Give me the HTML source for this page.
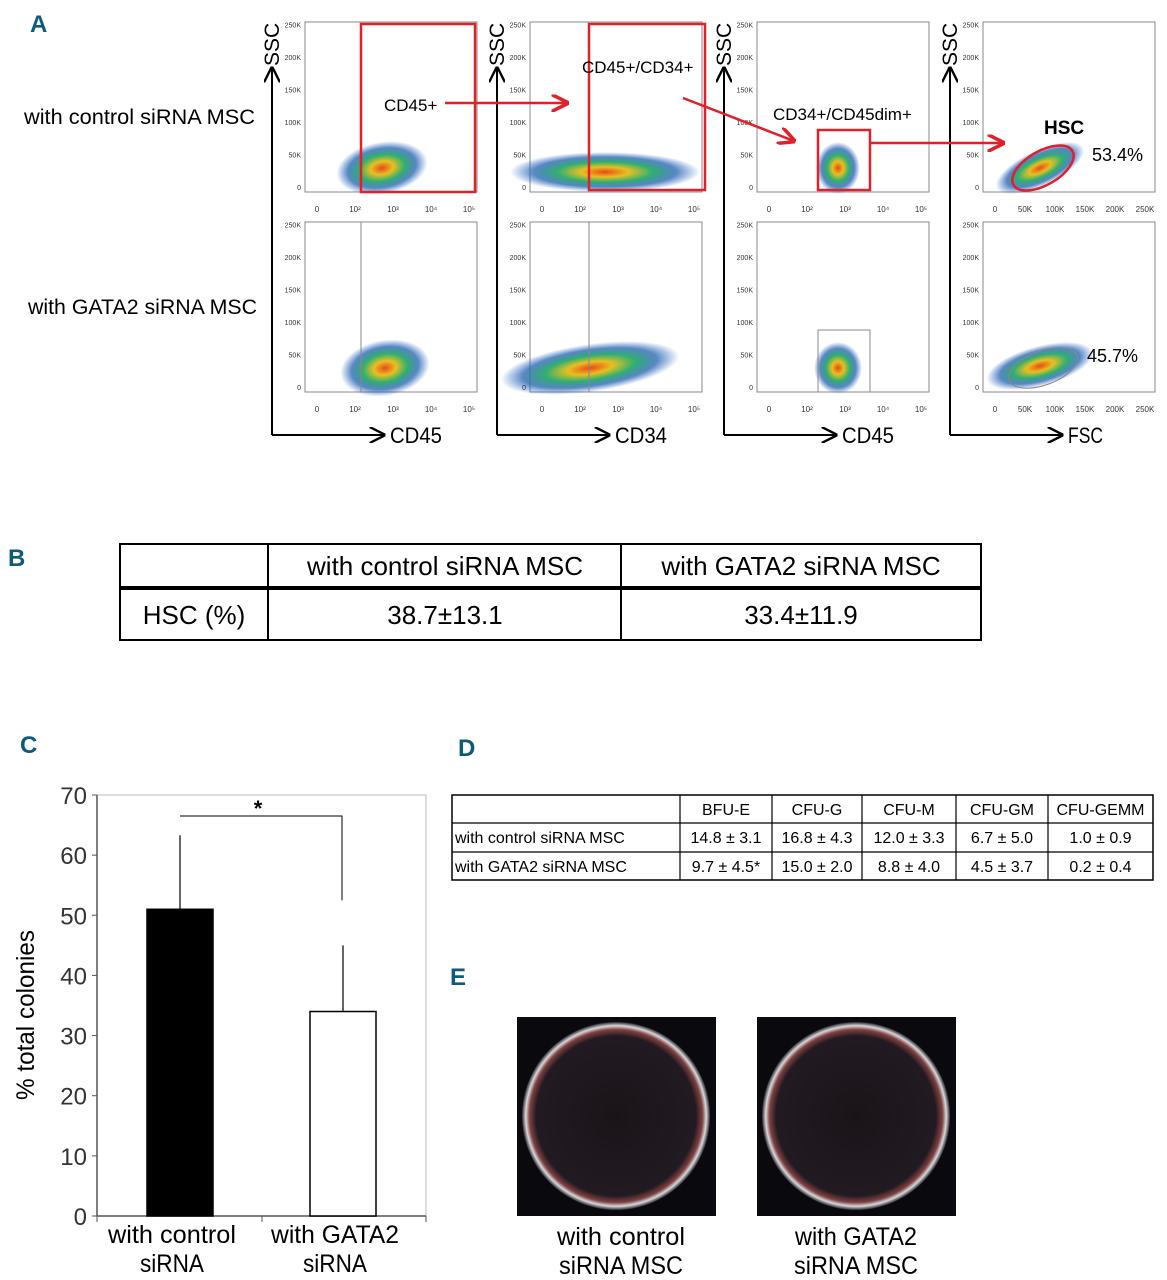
<!DOCTYPE html>
<html><head><meta charset="utf-8">
<style>
html,body{margin:0;padding:0;background:#fff;}
svg{display:block;font-family:"Liberation Sans",sans-serif;}
.pl{fill:#0e5a7a;font-weight:bold;font-size:24px;font-family:"Liberation Sans Narrow","Liberation Sans",sans-serif;}
</style></head>
<body>
<svg id="fig" width="1167" height="1280" viewBox="0 0 1167 1280">
<defs>
 <radialGradient id="blob">
  <stop offset="0" stop-color="#e84a1a"/>
  <stop offset="0.25" stop-color="#e8c020"/>
  <stop offset="0.5" stop-color="#30b070"/>
  <stop offset="0.75" stop-color="#2060b0" stop-opacity="0.75"/>
  <stop offset="1" stop-color="#2060c0" stop-opacity="0"/>
 </radialGradient>
 <radialGradient id="dish">
  <stop offset="0" stop-color="#1a1418"/>
  <stop offset="0.85" stop-color="#221a22"/>
  <stop offset="0.92" stop-color="#804040"/>
  <stop offset="0.96" stop-color="#d8d8dc"/>
  <stop offset="1" stop-color="#2a2a30"/>
 </radialGradient>
 <marker id="ar" viewBox="0 0 10 10" refX="9" refY="5" markerWidth="8" markerHeight="8" orient="auto"><path d="M0,0 L10,5 L0,10" fill="none" stroke="#000" stroke-width="1.5"/></marker>
 <marker id="arr" viewBox="0 0 10 10" refX="9" refY="5" markerWidth="7" markerHeight="7" orient="auto"><path d="M0,0 L10,5 L0,10" fill="none" stroke="#e0202a" stroke-width="2"/></marker>
</defs>

<text class="pl" x="30" y="32">A</text>
<text class="pl" x="8" y="566">B</text>
<text class="pl" x="20" y="753">C</text>
<text class="pl" x="458" y="756">D</text>
<text class="pl" x="450" y="985">E</text>

<text x="24" y="124" font-size="21" textLength="231" lengthAdjust="spacingAndGlyphs">with control siRNA MSC</text>
<text x="28" y="314" font-size="21" textLength="229" lengthAdjust="spacingAndGlyphs">with GATA2 siRNA MSC</text>

<g id="flow"></g>

<g font-size="26">
 <rect x="120" y="544" width="861" height="96" fill="none" stroke="#000" stroke-width="2"/>
 <line x1="120" y1="588" x2="981" y2="588" stroke="#000" stroke-width="4"/>
 <line x1="268" y1="544" x2="268" y2="640" stroke="#000" stroke-width="2"/>
 <line x1="621" y1="544" x2="621" y2="640" stroke="#000" stroke-width="2"/>
 <text x="445" y="575" text-anchor="middle">with control siRNA MSC</text>
 <text x="801" y="575" text-anchor="middle">with GATA2 siRNA MSC</text>
 <text x="194" y="624" text-anchor="middle">HSC (%)</text>
 <text x="445" y="624" text-anchor="middle">38.7±13.1</text>
 <text x="801" y="624" text-anchor="middle">33.4±11.9</text>
</g>

<g id="chart"></g>

<g id="tableD" font-size="15"></g>

<g>
 <rect x="517" y="1017" width="199" height="199" fill="#0a0a0e"/>
 <circle cx="616" cy="1116" r="94" fill="url(#dish)"/>
 <rect x="757" y="1017" width="199" height="199" fill="#0a0a0e"/>
 <circle cx="856" cy="1116" r="94" fill="url(#dish)"/>
 <text x="621" y="1245" font-size="25" text-anchor="middle" textLength="128" lengthAdjust="spacingAndGlyphs">with control</text>
 <text x="621" y="1274" font-size="25" text-anchor="middle" textLength="124" lengthAdjust="spacingAndGlyphs">siRNA MSC</text>
 <text x="856" y="1245" font-size="25" text-anchor="middle" textLength="122" lengthAdjust="spacingAndGlyphs">with GATA2</text>
 <text x="856" y="1274" font-size="25" text-anchor="middle" textLength="124" lengthAdjust="spacingAndGlyphs">siRNA MSC</text>
</g>
</svg>
<script>
const NS="http://www.w3.org/2000/svg";
function mk(parent,tag,attrs,text){const e=document.createElementNS(NS,tag);for(const k in attrs)e.setAttribute(k,attrs[k]);if(text!==undefined)e.textContent=text;parent.appendChild(e);return e;}

const flow=document.getElementById('flow');
const colX=[305,530,757,983];
const rowY=[22,222];
const xLabels=['CD45','CD34','CD45','FSC'];
const axisX=[272,497,724,950];
const blobs=[
 [[382,168,46,26,-10],[385,368,45,28,-10]],
 [[605,172,95,20,0],[590,368,90,24,-8]],
 [[838,168,22,26,0],[838,368,24,26,0]],
 [[1040,168,48,18,-25],[1040,366,55,20,-15]]
];
for(let c=0;c<4;c++){
 for(let r=0;r<2;r++){
  const x=colX[c],y=rowY[r];
  const g=mk(flow,'g',{});
  
  
  mk(g,'rect',{x:x,y:y,width:172,height:170,fill:'#fff',stroke:'#888','stroke-width':1});
  const b=blobs[c][r];
  mk(g,'ellipse',{cx:b[0],cy:b[1],rx:b[2],ry:b[3],fill:'url(#blob)',transform:`rotate(${b[4]} ${b[0]} ${b[1]})`});
  const yt=['0','50K','100K','150K','200K','250K'];
  yt.forEach((t,i)=>{mk(g,'text',{x:x-4,y:y+168-i*32.5,'font-size':7,'text-anchor':'end',fill:'#333'},t);});
  const xt=c<3?['0','10²','10³','10⁴','10⁵']:['0','50K','100K','150K','200K','250K'];
  xt.forEach((t,i)=>{const step=c<3?38:30;mk(g,'text',{x:x+12+i*step,y:y+190,'font-size':8,'text-anchor':'middle',fill:'#333'},t);});
  if(c===0&&r===1) mk(g,'line',{x1:361,y1:y,x2:361,y2:y+170,stroke:'#888'});
  if(c===1&&r===1) mk(g,'line',{x1:589,y1:y,x2:589,y2:y+170,stroke:'#888'});
  if(c===2&&r===1) mk(g,'rect',{x:818,y:330,width:52,height:62,fill:'none',stroke:'#888'});
  if(c===3&&r===1) mk(g,'ellipse',{cx:1043,cy:368,rx:36,ry:17,fill:'none',stroke:'#888',transform:'rotate(-20 1043 368)'});
 }
 const ax=mk(flow,'g',{});
 
 
 mk(ax,'line',{x1:axisX[c],y1:435,x2:axisX[c],y2:68,stroke:'#000','stroke-width':2,'marker-end':'url(#ar)'});
 mk(ax,'line',{x1:axisX[c],y1:435,x2:axisX[c]+112,y2:435,stroke:'#000','stroke-width':2,'marker-end':'url(#ar)'});
 mk(ax,'text',{x:axisX[c]+118,y:443,'font-size':22,textLength:c===3?35:52,lengthAdjust:'spacingAndGlyphs'},xLabels[c]);
 mk(ax,'text',{x:0,y:0,'font-size':21,transform:`translate(${axisX[c]+7},66) rotate(-90)`},'SSC');
}
const gates=mk(flow,'g',{fill:'none',stroke:'#e0202a','stroke-width':2.5});


mk(gates,'rect',{x:361,y:24,width:114,height:168});
mk(gates,'rect',{x:589,y:24,width:116,height:166});
mk(gates,'rect',{x:818,y:130,width:52,height:60});
mk(gates,'ellipse',{cx:1043,cy:168,rx:34,ry:17,transform:'rotate(-30 1043 168)'});
mk(gates,'line',{x1:445,y1:103,x2:567,y2:103,'marker-end':'url(#arr)'});
mk(gates,'line',{x1:683,y1:98,x2:794,y2:141,'marker-end':'url(#arr)'});
mk(gates,'line',{x1:870,y1:143,x2:1003,y2:143,'marker-end':'url(#arr)'});
mk(flow,'text',{x:384,y:111,'font-size':17},'CD45+');
mk(flow,'text',{x:582,y:73,'font-size':17},'CD45+/CD34+');
mk(flow,'text',{x:773,y:120,'font-size':17},'CD34+/CD45dim+');
mk(flow,'text',{x:1044,y:134,'font-size':19,'font-weight':'bold'},'HSC');
mk(flow,'text',{x:1092,y:161,'font-size':18},'53.4%');
mk(flow,'text',{x:1087,y:362,'font-size':18},'45.7%');

const categories=['with control|siRNA','with GATA2|siRNA'];
const means=[51,34];
const errs=[12.3,11];
const yTicks=[0,10,20,30,40,50,60,70];
const chart=document.getElementById('chart');
const y0=1216,y1=795,yMax=70;
const ys=v=>y0-(v/yMax)*(y0-y1);
const xCenter=i=>180+i*163;
mk(chart,'polyline',{points:`97,795 426,795 426,1216`,fill:'none',stroke:'#bbb','stroke-width':1});
mk(chart,'line',{x1:97,y1:795,x2:97,y2:1216,stroke:'#555','stroke-width':1.5});
mk(chart,'line',{x1:97,y1:1216,x2:426,y2:1216,stroke:'#555','stroke-width':1.5});
yTicks.forEach(t=>{
 const tk=mk(chart,'text',{x:87,y:ys(t)+9,'font-size':24,'text-anchor':'end',fill:'#333'},String(t));
 
 
 mk(chart,'line',{x1:92,y1:ys(t),x2:97,y2:ys(t),stroke:'#555'});
});
[97,262,426].forEach(x=>mk(chart,'line',{x1:x,y1:1216,x2:x,y2:1222,stroke:'#555'}));
means.forEach((m,i)=>{
 const cx=xCenter(i);
 const bar=mk(chart,'rect',{x:cx-33,y:ys(m),width:66,height:y0-ys(m),fill:i===0?'#000':'#fff',stroke:'#000','stroke-width':1.5});
 
 
 const eb=mk(chart,'line',{x1:cx,y1:ys(m),x2:cx,y2:ys(m+errs[i]),stroke:'#000','stroke-width':1.2});
 
 
 const parts=categories[i].split('|');
 parts.forEach((p,j)=>mk(chart,'text',{x:cx-8,y:1243+j*29,'font-size':25,'text-anchor':'middle',textLength:j===0?128:64,lengthAdjust:'spacingAndGlyphs'},p));
});
mk(chart,'polyline',{points:`${xCenter(0)},${ys(66.5)} 342,${ys(66.5)} 342,${ys(52.5)}`,fill:'none',stroke:'#000','stroke-width':1});
mk(chart,'text',{x:258,y:816,'font-size':22,'text-anchor':'middle','font-weight':'bold'},'*');
const yl=mk(chart,'text',{x:0,y:0,'font-size':25,'text-anchor':'middle',transform:'translate(34,1015) rotate(-90)',textLength:170,lengthAdjust:'spacingAndGlyphs'},'% total colonies');



const tD=document.getElementById('tableD');
const cols=[452,680,772,862,956,1048,1153];
const rows=[795,823,852,880];
const head=['','BFU-E','CFU-G','CFU-M','CFU-GM','CFU-GEMM'];
const body=[['with control siRNA MSC','14.8 ± 3.1','16.8 ± 4.3','12.0 ± 3.3','6.7 ± 5.0','1.0 ± 0.9'],
            ['with GATA2 siRNA MSC','9.7 ± 4.5*','15.0 ± 2.0','8.8 ± 4.0','4.5 ± 3.7','0.2 ± 0.4']];
mk(tD,'rect',{x:452,y:795,width:701,height:85,fill:'none',stroke:'#000','stroke-width':1.5});
rows.slice(1,3).forEach(y=>mk(tD,'line',{x1:452,y1:y,x2:1153,y2:y,stroke:'#000','stroke-width':1.2}));
cols.slice(1,6).forEach(x=>mk(tD,'line',{x1:x,y1:795,x2:x,y2:880,stroke:'#000','stroke-width':1.2}));
[head].concat(body).forEach((row,r)=>{
 row.forEach((t,c)=>{
  if(!t)return;
  if(c===0) mk(tD,'text',{x:455,y:rows[r]+20,'font-size':16},t);
  else mk(tD,'text',{x:(cols[c]+cols[c+1])/2,y:rows[r]+20,'text-anchor':'middle','font-size':16},t);
 });
});
</script>
</body></html>
